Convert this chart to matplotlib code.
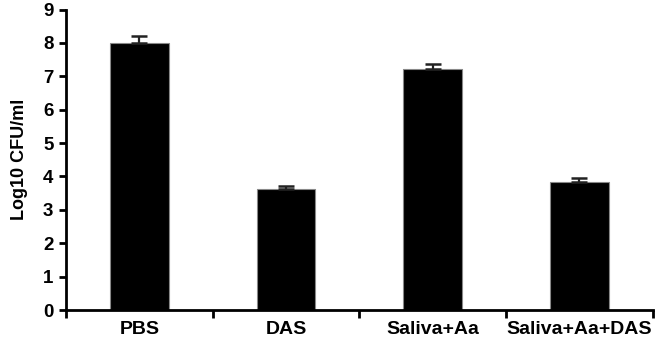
import numpy as np
import matplotlib
matplotlib.use("Agg")
import matplotlib.pyplot as plt

# values
groups = ["PBS", "DAS", "Saliva+Aa", "Saliva+Aa+DAS"]
log_cfu = [8.0, 3.62, 7.22, 3.82]
sem = [0.22, 0.08, 0.15, 0.13]

plt.rcParams['font.family'] = ['Liberation Sans', 'DejaVu Sans']
plt.rcParams['font.weight'] = 'bold'

fig = plt.figure(figsize=(6.66, 3.43), dpi=100)
ax = fig.add_axes([0.099, 0.0962, 0.881, 0.876])

x = np.arange(len(groups))
ax.bar(x, log_cfu, width=0.4, color='black', edgecolor='#888888', linewidth=0.8, zorder=2)
# upper error bars only
ax.errorbar(x, log_cfu, yerr=[np.zeros(len(sem)), sem], fmt='none',
            ecolor='#222222', elinewidth=1.6, capsize=5.5, capthick=1.8, zorder=3)

ax.set_xlim(-0.5, len(groups) - 0.5)
ax.set_ylim(0, 9)
ax.set_yticks(range(0, 10))

# category labels in the middle, tick marks on the boundaries
ax.set_xticks(x)
ax.set_xticklabels(groups, fontsize=14, fontweight='bold')
ax.tick_params(axis='x', which='major', length=0, pad=8)
ax.set_xticks(np.arange(-0.5, len(groups)), minor=True)
ax.tick_params(axis='x', which='minor', length=6, width=2, direction='out')
ax.tick_params(axis='y', labelsize=13.5, length=5, width=2, direction='out', pad=4)
for lab in ax.get_yticklabels():
    lab.set_fontweight('bold')

ax.set_ylabel("Log10 CFU/ml", fontsize=13, fontweight='bold', labelpad=11)

for side in ['top', 'right']:
    ax.spines[side].set_visible(False)
for side in ['left', 'bottom']:
    ax.spines[side].set_linewidth(2)

fig.savefig("out.png", dpi=100)
